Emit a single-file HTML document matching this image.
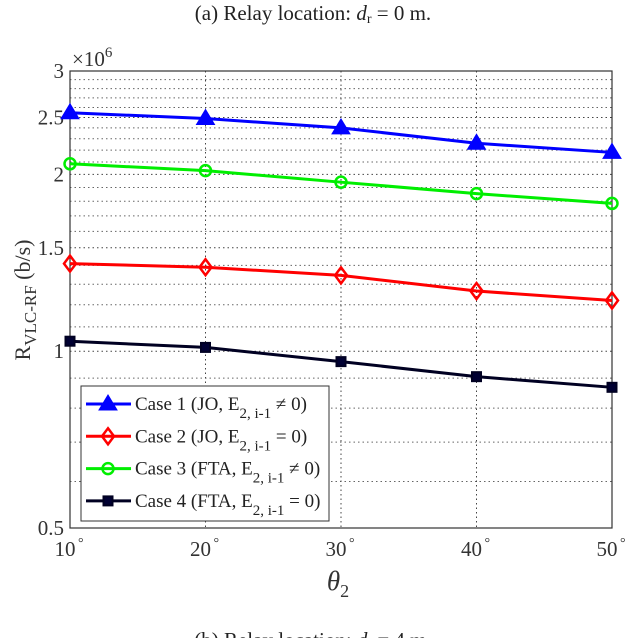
<!DOCTYPE html>
<html><head><meta charset="utf-8"><style>
body{margin:0;background:#fff;}
svg{display:block;font-family:"Liberation Serif",serif;}
</style></head><body>
<svg id="chart" width="626" height="638" viewBox="0 0 626 638">
<text x="313" y="20" font-size="21" text-anchor="middle" fill="#222">(a) Relay location: <tspan font-style="italic">d</tspan><tspan font-size="14" dy="3">r</tspan><tspan dy="-3"> = 0 m.</tspan></text>
<text x="313" y="647" font-size="21" text-anchor="middle" fill="#222">(b) Relay location: <tspan font-style="italic">d</tspan><tspan font-size="14" dy="3">r</tspan><tspan dy="-3"> = 4 m.</tspan></text>
<g id="grid"></g>
<g id="axes"></g>
<g id="series"></g>
<g id="legend"></g>
</svg>
<script>
const categories = [10, 20, 30, 40, 50];
const case1 = [2.547, 2.49, 2.4, 2.26, 2.18];
const case2 = [1.41, 1.39, 1.346, 1.266, 1.22];
const case3 = [2.085, 2.03, 1.94, 1.855, 1.785];
const case4 = [1.04, 1.015, 0.96, 0.905, 0.868];
const yTicks = [0.5, 1, 1.5, 2, 2.5, 3];
const yTickLabels = ["0.5", "1", "1.5", "2", "2.5", "3"];
const xTickLabels = ["10", "20", "30", "40", "50"];

const L=70,R=612,T=71,B=528;
const NS="http://www.w3.org/2000/svg";
const xS=v=>L+(v-10)/40*(R-L);
const yS=v=>T+(Math.log(3)-Math.log(v))/Math.log(6)*(B-T);
function mk(tag,attrs,parent){const e=document.createElementNS(NS,tag);for(const k in attrs)e.setAttribute(k,attrs[k]);parent.appendChild(e);return e;}
const grid=document.getElementById('grid'),axes=document.getElementById('axes'),ser=document.getElementById('series'),leg=document.getElementById('legend');

for(let i=6;i<30;i++){const v=i/10;if(i%5===0)continue;
 const l=mk('line',{x1:L,x2:R,y1:yS(v),y2:yS(v),stroke:'#666','stroke-width':1,'stroke-dasharray':'1.5,3'},grid);
 
 }
yTicks.forEach((v,i)=>{
 const l=mk('line',{x1:L,x2:R,y1:yS(v),y2:yS(v),stroke:'#444','stroke-width':1,'stroke-dasharray':'1.5,3'},grid);
 
 
 const t=mk('text',{x:L-6,y:yS(v)+7,'font-size':21,'text-anchor':'end',fill:'#333'},axes);t.textContent=yTickLabels[i];
 
 
});
categories.forEach((c,i)=>{
 const l=mk('line',{x1:xS(c),x2:xS(c),y1:T,y2:B,stroke:'#444','stroke-width':1,'stroke-dasharray':'1.5,3'},grid);
 
 
 const t=mk('text',{x:xS(c)-5,y:B+28,'font-size':21,'text-anchor':'middle',fill:'#333'},axes);t.textContent=xTickLabels[i];
 
 
 const d=mk('text',{x:xS(c)+8,y:B+19,'font-size':14,fill:'#333'},axes);d.textContent='°';
 
 
});
const box=mk('rect',{x:L,y:T,width:R-L,height:B-T,fill:'none',stroke:'#333','stroke-width':1.2},axes);


const ex=mk('text',{x:72,y:66,'font-size':21,fill:'#333'},axes);ex.innerHTML='×10<tspan font-size="15" dy="-9">6</tspan>';


const xl=mk('text',{x:338,y:590,'font-size':27,'font-style':'italic','text-anchor':'middle',fill:'#333'},axes);xl.innerHTML='θ<tspan font-size="18" font-style="normal" dy="7">2</tspan>';


const yl=mk('text',{x:0,y:0,'font-size':22,'text-anchor':'middle',fill:'#333',transform:'translate(30,300) rotate(-90)'},axes);yl.innerHTML='R<tspan font-size="17" dy="6">VLC-RF</tspan><tspan dy="-6"> (b/s)</tspan>';



function marker(type,x,y,color,parent){
 let e;
 if(type==='tri') e=mk('polygon',{points:`${x},${y-9} ${x-9},${y+6} ${x+9},${y+6}`,fill:color,stroke:color,'stroke-width':1},parent);
 else if(type==='dia') e=mk('polygon',{points:`${x},${y-8} ${x+6},${y} ${x},${y+8} ${x-6},${y}`,fill:'none',stroke:color,'stroke-width':2.5},parent);
 else if(type==='circ') e=mk('circle',{cx:x,cy:y,r:5.5,fill:'none',stroke:color,'stroke-width':2.5},parent);
 else e=mk('rect',{x:x-4.5,y:y-4.5,width:9,height:9,fill:'#000033',stroke:color,'stroke-width':2},parent);
 return e;
}
const series=[
 {d:case1,c:'#0000ff',m:'tri',n:'case-1'},
 {d:case2,c:'#ff0000',m:'dia',n:'case-2'},
 {d:case3,c:'#00ee00',m:'circ',n:'case-3'},
 {d:case4,c:'#000022',m:'sq',n:'case-4'}];
series.forEach(s=>{
 const p=mk('polyline',{points:s.d.map((v,i)=>xS(categories[i])+','+yS(v)).join(' '),fill:'none',stroke:s.c,'stroke-width':3},ser);
 
 
 s.d.forEach((v,i)=>{const m=marker(s.m,xS(categories[i]),yS(v),s.c,ser);
  
  });
});
const lb=mk('rect',{x:81,y:386,width:248,height:135,fill:'#fff',stroke:'#333','stroke-width':1},leg);


const labels=[
 ['Case 1 (JO, E','≠ 0)'],['Case 2 (JO, E','= 0)'],['Case 3 (FTA, E','≠ 0)'],['Case 4 (FTA, E','= 0)']];
series.forEach((s,i)=>{
 const y=404+i*32.3;
 const g=mk('g',{},leg);
 
 
 mk('line',{x1:86,x2:131,y1:y,y2:y,stroke:s.c,'stroke-width':3},g);
 marker(s.m,108,y,s.c,g);
 const t=mk('text',{x:135,y:y+6,'font-size':19,fill:'#222'},g);
 t.innerHTML=labels[i][0]+'<tspan font-size="15" dy="8">2, i-1</tspan><tspan dy="-8"> '+labels[i][1]+'</tspan>';
});
</script>
</body></html>
